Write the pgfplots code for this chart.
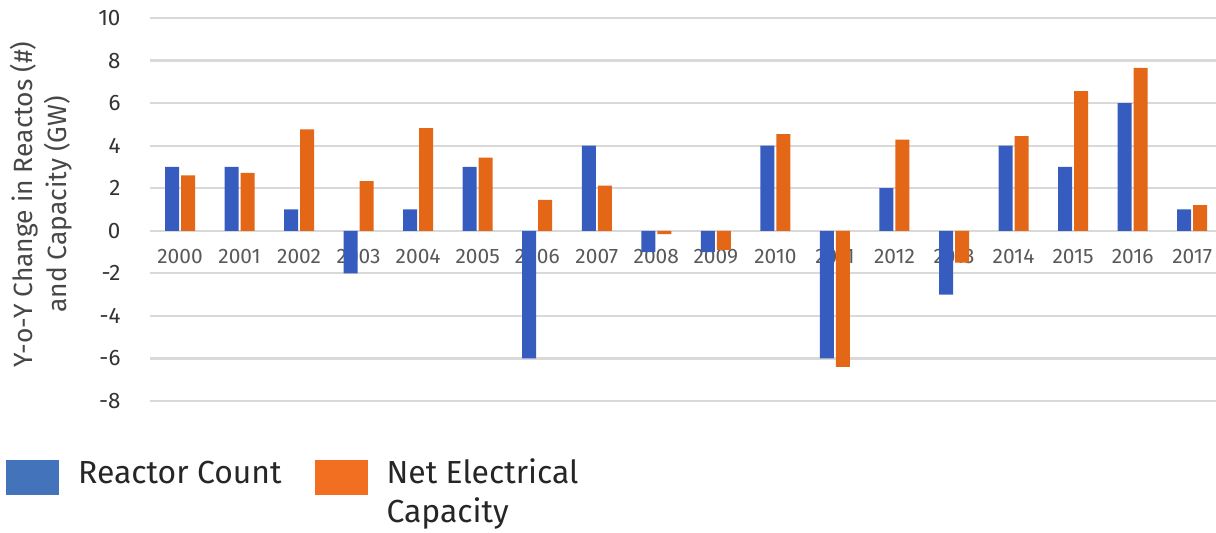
\documentclass[border=0pt]{standalone}
\usepackage{fontspec}
\setmainfont{Fira Sans}
\usepackage{pgfplots}
\usepackage{pgfplotstable}
\pgfplotsset{compat=1.18}

\definecolor{barblue}{HTML}{355CBE}
\definecolor{barorange}{HTML}{E36716}
\definecolor{legblue}{HTML}{4373BA}
\definecolor{legorange}{HTML}{F26F21}
\definecolor{gridgrey}{HTML}{D9D9D9}
\definecolor{ticktext}{HTML}{595959}
\definecolor{darktext}{HTML}{333333}

% year index, reactor count change, net electrical capacity change (GW)
\pgfplotstableread{
x  rc  cap
0   3   2.60
1   3   2.72
2   1   4.76
3  -2   2.33
4   1   4.83
5   3   3.44
6  -6   1.45
7   4   2.12
8  -1  -0.16
9  -1  -0.90
10  4   4.54
11 -6  -6.40
12  2   4.28
13 -3  -1.50
14  4   4.45
15  3   6.56
16  6   7.66
17  1   1.21
}\yoy

\begin{document}
\begin{tikzpicture}
\useasboundingbox (-150bp,-132bp) rectangle (1066bp,401bp);
\begin{axis}[
  scale only axis,
  width=1066bp, height=383bp,
  ybar=2bp, bar width=14bp,
  xmin=-0.504, xmax=17.40,
  ymin=-8, ymax=10,
  ytick={-8,-6,...,10},
  xtick=data,
  xticklabels={2000,2001,2002,2003,2004,2005,2006,2007,2008,2009,2010,2011,2012,2013,2014,2015,2016,2017},
  axis x line*=middle,
  axis y line*=left,
  x axis line style={draw=none},
  y axis line style={draw=none},
  major tick length=0pt,
  ymajorgrids,
  grid style={gridgrey, line width=2.2bp},
  /pgf/number format/assume math mode=true,
  xticklabel style={font=\fontsize{21}{25}\selectfont, text=ticktext, yshift=-15bp},
  yticklabel style={font=\fontsize{22.5}{27}\selectfont, text=darktext, xshift=-26bp},
  ylabel={Y-o-Y Change in Reactos (\#)\\and Capacity (GW)},
  ylabel style={at={(axis description cs:-0.134,0.513)}, anchor=north,
    align=center, font=\fontsize{26.5}{34}\selectfont, text=darktext!90!white},
  legend columns=2,
  legend style={at={(axis description cs:0,0)}, anchor=north west,
    xshift=-144bp, yshift=-52bp, draw=none, fill=none, inner sep=0pt,
    font=\fontsize{32}{40}\selectfont, text=black!85,
    cells={anchor=base west},
    /tikz/every odd column/.append style={column sep=17bp},
    /tikz/every even column/.append style={column sep=31bp}},
]
\addplot[fill=barblue, draw=none, area legend,
  legend image code/.code={\fill[legblue] (0bp,-12bp) rectangle (53bp,23bp);}]
  table[x=x, y=rc] {\yoy};
\addplot[fill=barorange, draw=none, area legend,
  legend image code/.code={\fill[legorange] (0bp,-12bp) rectangle (53bp,23bp);}]
  table[x=x, y=cap] {\yoy};
\legend{Reactor Count, {\begin{tabular}[t]{@{}l@{}}Net Electrical\\Capacity\end{tabular}}}
\end{axis}
\end{tikzpicture}
\end{document}
